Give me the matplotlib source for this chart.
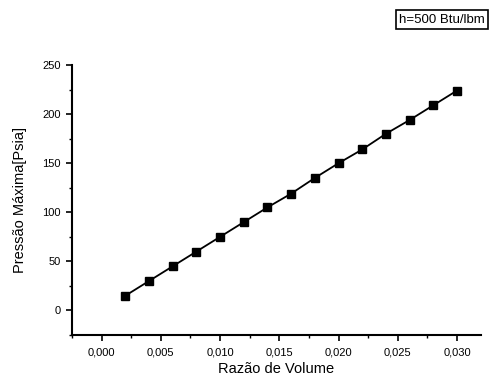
import matplotlib
matplotlib.use("Agg")
import matplotlib.pyplot as plt
from matplotlib.ticker import MultipleLocator, FuncFormatter

plt.rcParams['font.family'] = ['Liberation Sans', 'DejaVu Sans']

# data
razao = [0.002, 0.004, 0.006, 0.008, 0.010, 0.012, 0.014, 0.016,
         0.018, 0.020, 0.022, 0.024, 0.026, 0.028, 0.030]
pressao = [15, 30, 45, 60, 75, 90, 105, 119, 135, 150, 164, 180, 194, 209, 224]

fig = plt.figure(figsize=(4.93, 3.76), dpi=100)
ax = fig.add_axes([0.146, 0.109, 0.829, 0.718])

ax.plot(razao, pressao, color='black', lw=1.3, marker='s', ms=5.5)

ax.set_xlim(-0.0025, 0.032)
ax.set_ylim(-25, 250)
ax.xaxis.set_major_locator(MultipleLocator(0.005))
ax.xaxis.set_minor_locator(MultipleLocator(0.0025))
ax.yaxis.set_major_locator(MultipleLocator(50))
ax.yaxis.set_minor_locator(MultipleLocator(25))
ax.xaxis.set_major_formatter(FuncFormatter(lambda v, p: f"{v:.3f}".replace('.', ',')))

for s in ['top', 'right']:
    ax.spines[s].set_visible(False)
for s in ['left', 'bottom']:
    ax.spines[s].set_linewidth(1.5)
ax.tick_params(which='major', length=4, width=1.2, labelsize=8)
ax.tick_params(axis='x', which='major', pad=5)
ax.tick_params(axis='y', which='major', pad=4)
ax.tick_params(which='minor', length=2, width=1.0)

ax.set_xlabel('Razão de Volume', fontsize=10.5, labelpad=3)
ax.set_ylabel('Pressão Máxima[Psia]', fontsize=10.5, labelpad=11)

fig.text(0.896, 0.948, 'h=500 Btu/lbm', fontsize=9.5, ha='center', va='center',
         bbox=dict(boxstyle='square,pad=0.25', fc='white', ec='black', lw=1.2))

fig.savefig('out.png', dpi=100)
